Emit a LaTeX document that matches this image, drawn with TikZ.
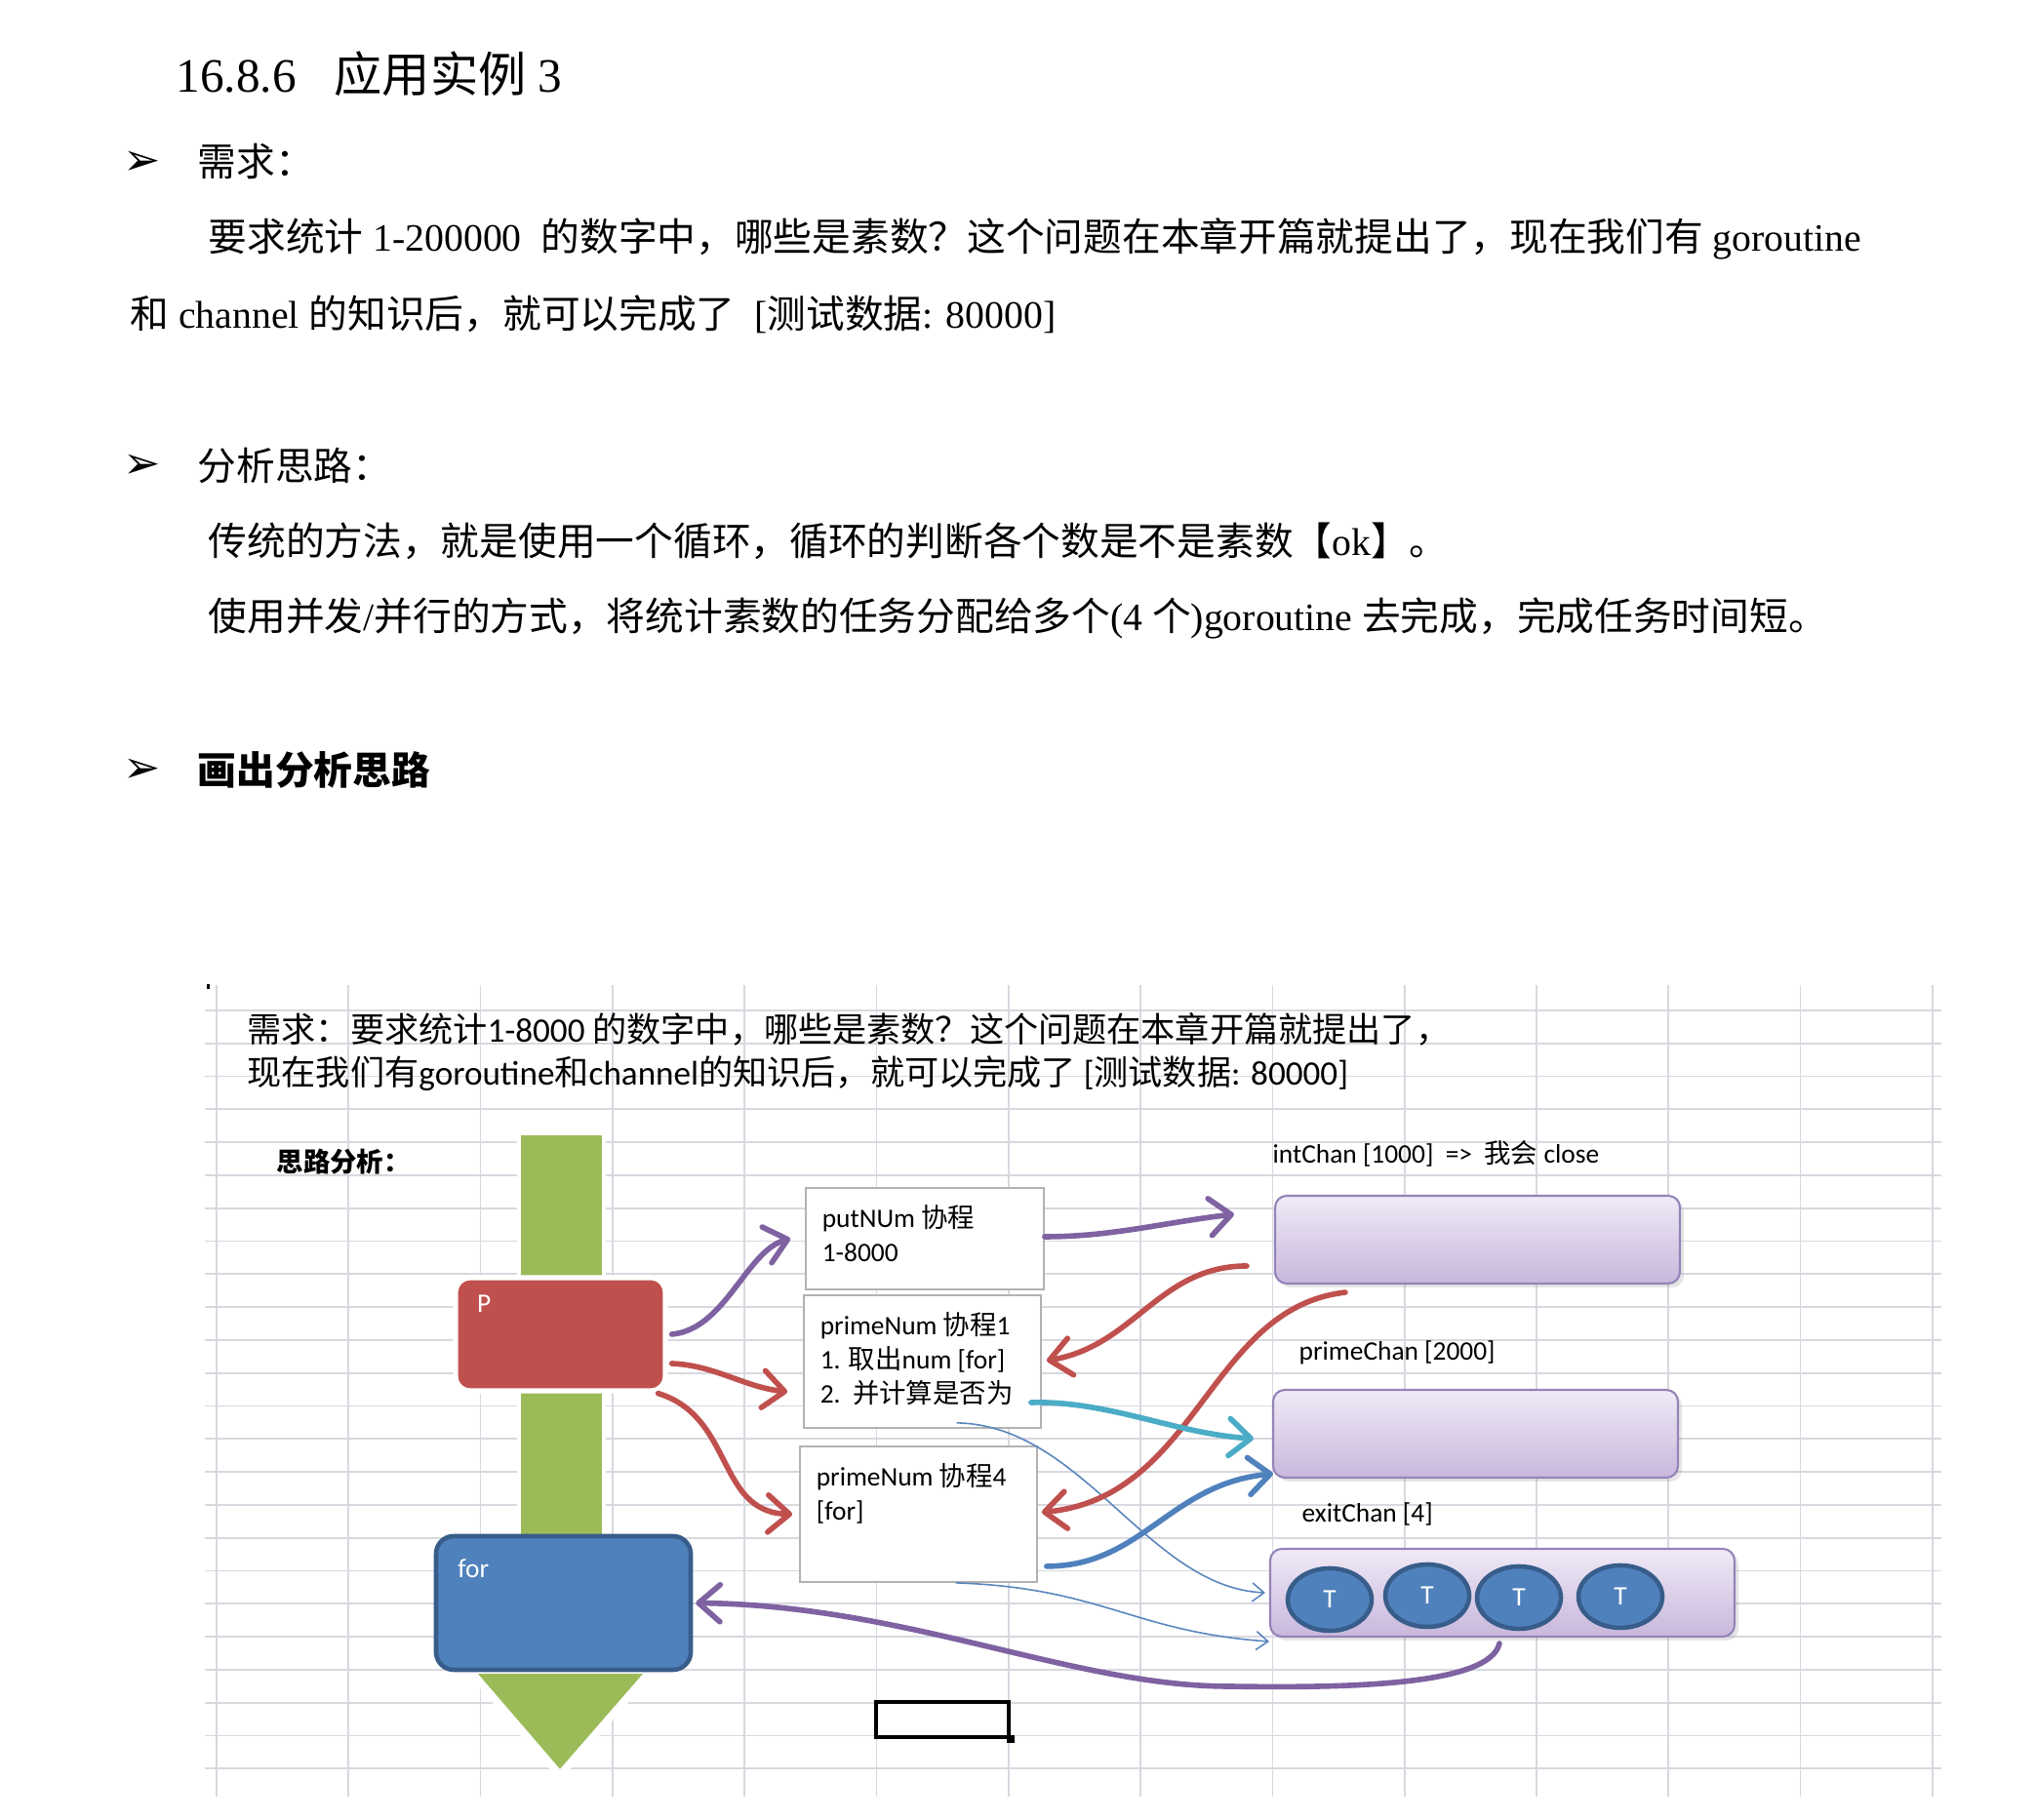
\documentclass[tikz,border=0pt]{standalone}
\usepackage{fontspec}
\setmainfont{Liberation Serif}
\newfontfamily\cjk{Noto Sans CJK SC}
\newfontfamily\cali{Carlito}
\newfontfamily\dingfnt{DejaVu Sans}
\newcommand{\zh}[1]{{\cjk #1}}
\usetikzlibrary{positioning,arrows.meta,calc,shapes.geometric,shadows}
\definecolor{offred}{HTML}{C0504D}
\definecolor{offblue}{HTML}{4F81BD}
\definecolor{offblued}{HTML}{385D8A}
\definecolor{offgreen}{HTML}{9BBB59}
\definecolor{offpurple}{HTML}{7E62A1}
\definecolor{offcyan}{HTML}{4BACC6}
\definecolor{thinblue}{HTML}{5A86BC}
\definecolor{lavtop}{HTML}{F0EAF6}
\definecolor{lavbot}{HTML}{C8B7DC}
\definecolor{chanedge}{HTML}{9484B8}
\definecolor{gridc}{HTML}{D8D8E0}

\begin{document}
\begin{tikzpicture}[
  hdr/.style={anchor=west, inner sep=0pt, font=\fontsize{11.3}{13}\selectfont},
  bul/.style={inner sep=0pt, font=\dingfnt\fontsize{13}{14}\selectfont},
  dg/.style={anchor=west, inner sep=0pt, font=\cali\fontsize{10}{12}\selectfont},
  sm/.style={anchor=west, inner sep=0pt, font=\cali\fontsize{7.8}{9.9}\selectfont},
  gridln/.style={draw=gridc, line width=0.5pt},
  wbox/.style={draw=black!30, fill=white, line width=0.5pt},
  btxt/.style={anchor=north west, align=left, inner sep=0pt, xshift=0.17cm, yshift=-0.18cm,
               font=\cali\fontsize{7.8}{9.9}\selectfont},
  wtxt/.style={anchor=north west, inner sep=0pt, text=white, font=\cali\fontsize{7.8}{9}\selectfont},
  chan/.style={draw=chanedge, line width=0.6pt, rounded corners=0.12cm, top color=lavtop,
               bottom color=lavbot, minimum height=0.90cm,
               drop shadow={opacity=0.2, shadow xshift=0.04cm, shadow yshift=-0.04cm}},
  tnode/.style={ellipse, draw=offblued, line width=1.3pt, fill=offblue, text=white, inner sep=0pt,
                minimum width=0.86cm, minimum height=0.64cm, font=\cali\fontsize{7.8}{9}\selectfont},
  fat/.style={draw=#1, line width=1.6pt, line cap=round,
              -{Straight Barb[length=2.2mm, width=3.8mm, round]}},
  fine/.style={draw=thinblue, line width=0.45pt, -{Straight Barb[length=1.2mm, width=1.9mm]}}]
\useasboundingbox (0,0) rectangle (20.87,18.66);
\fill[white] (0,0) rectangle (20.87,18.66);
% heading and text
\node[anchor=west, inner sep=0pt, font=\fontsize{14}{16}\selectfont] (title) at (1.80,17.90)
  {16.8.6\hspace{0.39cm}\zh{应用实例} 3};
\node[bul] (b1) at (1.46,16.99) {➢};
\node[hdr] (req) at (2.02,17.00) {\zh{需求：}};
\node[hdr] (l1) at (2.13,16.21) {\zh{要求统计} 1-200000\ \ \zh{的数字中，哪些是素数？这个问题在本章开篇就提出了，现在我们有} goroutine};
\node[hdr] (l2) at (1.33,15.44) {\zh{和} channel \zh{的知识后，就可以完成了}\ \ [\zh{测试数据}: 80000]};
\node[bul] (b2) at (1.46,13.88) {➢};
\node[hdr] (ana) at (2.02,13.89) {\zh{分析思路：}};
\node[hdr] (l3) at (2.13,13.11) {\zh{传统的方法，就是使用一个循环，循环的判断各个数是不是素数【}ok\zh{】。}};
\node[hdr] (l4) at (2.13,12.32) {\zh{使用并发}/\zh{并行的方式，将统计素数的任务分配给多个}(4 \zh{个})goroutine \zh{去完成，完成任务时间短。}};
\node[bul] (b3) at (1.46,10.76) {➢};
\node[hdr] (draw) at (2.02,10.77) {\bfseries\zh{画出分析思路}};
% sheet grid
\foreach \i in {0,...,13} \draw[gridln] ({2.22+1.353*\i},8.56) -- ({2.22+1.353*\i},0.24);
\foreach \j in {0,...,23} \draw[gridln] (2.10,{8.30-0.338*\j}) -- (19.90,{8.30-0.338*\j});
\node[fill=black, inner sep=0pt, minimum width=0.03cm, minimum height=0.05cm] (dot) at (2.13,8.54) {};
\node[dg] (d1) at (2.53,8.11) {\zh{需求：要求统计}1-8000 \zh{的数字中，哪些是素数？这个问题在本章开篇就提出了，}};
\node[dg] (d2) at (2.53,7.65) {\zh{现在我们有}goroutine\zh{和}channel\zh{的知识后，就可以完成了} [\zh{测试数据}: 80000]};
\node[sm] (idea) at (2.83,6.75) {\bfseries\zh{思路分析：}};
% main flow
\draw[white, line width=1pt, fill=offgreen] (5.32,7.04) rectangle (6.19,1.46);
\draw[white, line width=0.08cm, fill=offgreen] (4.81,1.54) -- (6.68,1.54) -- (5.74,0.46) -- cycle;
\node[fill=offred, draw=white, line width=1.5pt, rounded corners=0.15cm, minimum width=2.15cm,
      minimum height=1.16cm, label={[wtxt, xshift=0.24cm, yshift=-0.20cm]north west:P}] (P) at (5.745,4.98) {};
\node[fill=offblue, draw=offblued, line width=1.3pt, rounded corners=0.18cm, minimum width=2.61cm,
      minimum height=1.37cm, label={[wtxt, xshift=0.24cm, yshift=-0.25cm]north west:for}] (for) at (5.775,2.225) {};
% goroutines
\node[wbox, minimum width=2.44cm, minimum height=1.04cm,
      label={[btxt]north west:{putNUm \zh{协程}\\1-8000}}] (putnum) at (9.48,5.96) {};
\node[wbox, minimum width=2.43cm, minimum height=1.36cm,
      label={[btxt]north west:{primeNum \zh{协程}1\\1. \zh{取出}num [for]\\2.\ \ \zh{并计算是否为}}}] (prime1) at (9.455,4.70) {};
\node[wbox, minimum width=2.43cm, minimum height=1.39cm,
      label={[btxt]north west:{primeNum \zh{协程}4\\{}[for]}}] (prime4) at (9.415,3.135) {};
% channels
\node[sm] (intlbl) at (13.04,6.83) {intChan [1000]\ \ =>\ \ \zh{我会} close};
\node[chan, minimum width=4.15cm] (intchan) at (15.145,5.95) {};
\node[sm] (primelbl) at (13.31,4.79) {primeChan [2000]};
\node[chan, minimum width=4.15cm] (primechan) at (15.125,3.96) {};
\node[sm] (exitlbl) at (13.34,3.14) {exitChan [4]};
\node[chan, minimum width=4.76cm] (exitchan) at (15.40,2.33) {};
\foreach \x/\y [count=\n] in {13.63/2.26, 14.63/2.30, 15.57/2.28, 16.61/2.29}
  \node[tnode] (t\n) at (\x,\y) {T};
% selected cell
\node[draw=black, line width=1.2pt, minimum width=1.36cm, minimum height=0.36cm, inner sep=0pt] (cell) at (9.66,1.03) {};
\node[fill=black, minimum size=0.08cm, inner sep=0pt] (hdl) at (cell.south east) {};
% connectors
\draw[fine] ([shift={(0.35,0.06)}]prime1.south) .. controls +(1.3,-0.02) and +(-1.2,0.05) .. ([xshift=-0.04cm]exitchan.west);
\draw[fine] ([xshift=0.38cm]prime4.south) .. controls +(1.5,-0.05) and +(-1.4,0.10) .. ([yshift=-0.04cm]exitchan.south west);
\draw[fat=offpurple] ([xshift=0.04cm]P.east) .. controls +(0.55,0.05) and +(-0.45,-0.12) .. ([xshift=-0.15cm]putnum.west);
\draw[fat=offpurple] ([yshift=0.02cm]putnum.east) .. controls +(0.7,0) and +(-0.7,-0.08) .. ([shift={(-0.41,0.26)}]intchan.west);
\draw[fat=offred] ([shift={(0.04,-0.30)}]P.east) .. controls +(0.45,-0.02) and +(-0.45,0.05) .. ([shift={(-0.16,-0.31)}]prime1.west);
\draw[fat=offred] ([xshift=-0.10cm]P.south east) .. controls +(0.78,-0.24) and +(-0.78,0.02) .. ([xshift=-0.07cm]prime4.west);
\draw[fat=offred] ([shift={(-0.28,-0.27)}]intchan.west) .. controls +(-0.9,0) and +(0.9,0.15) .. ([shift={(0.05,0.01)}]prime1.east);
\draw[fat=offred] ([shift={(0.73,-0.08)}]intchan.south west) .. controls +(-1.4,-0.16) and +(1.6,0.15) .. ([shift={(0.04,0.02)}]prime4.east);
\draw[fat=offcyan] ([shift={(-0.11,-0.42)}]prime1.east) .. controls +(0.8,0.02) and +(-0.8,0.05) .. ([shift={(-0.19,-0.05)}]primechan.west);
\draw[fat=offblue] ([shift={(0.09,0.17)}]prime4.south east) .. controls +(0.98,0) and +(-1.06,-0.10) .. ([shift={(0.01,0.05)}]primechan.south west);
\draw[fat=offpurple] ([shift={(-0.03,-0.06)}]exitchan.south) .. controls +(-0.1,-0.42) and (13.90,1.35) .. (12.60,1.37)
  .. controls (11.00,1.37) and (9.30,2.20) .. ([xshift=0.03cm]for.east);
\end{tikzpicture}
\end{document}
